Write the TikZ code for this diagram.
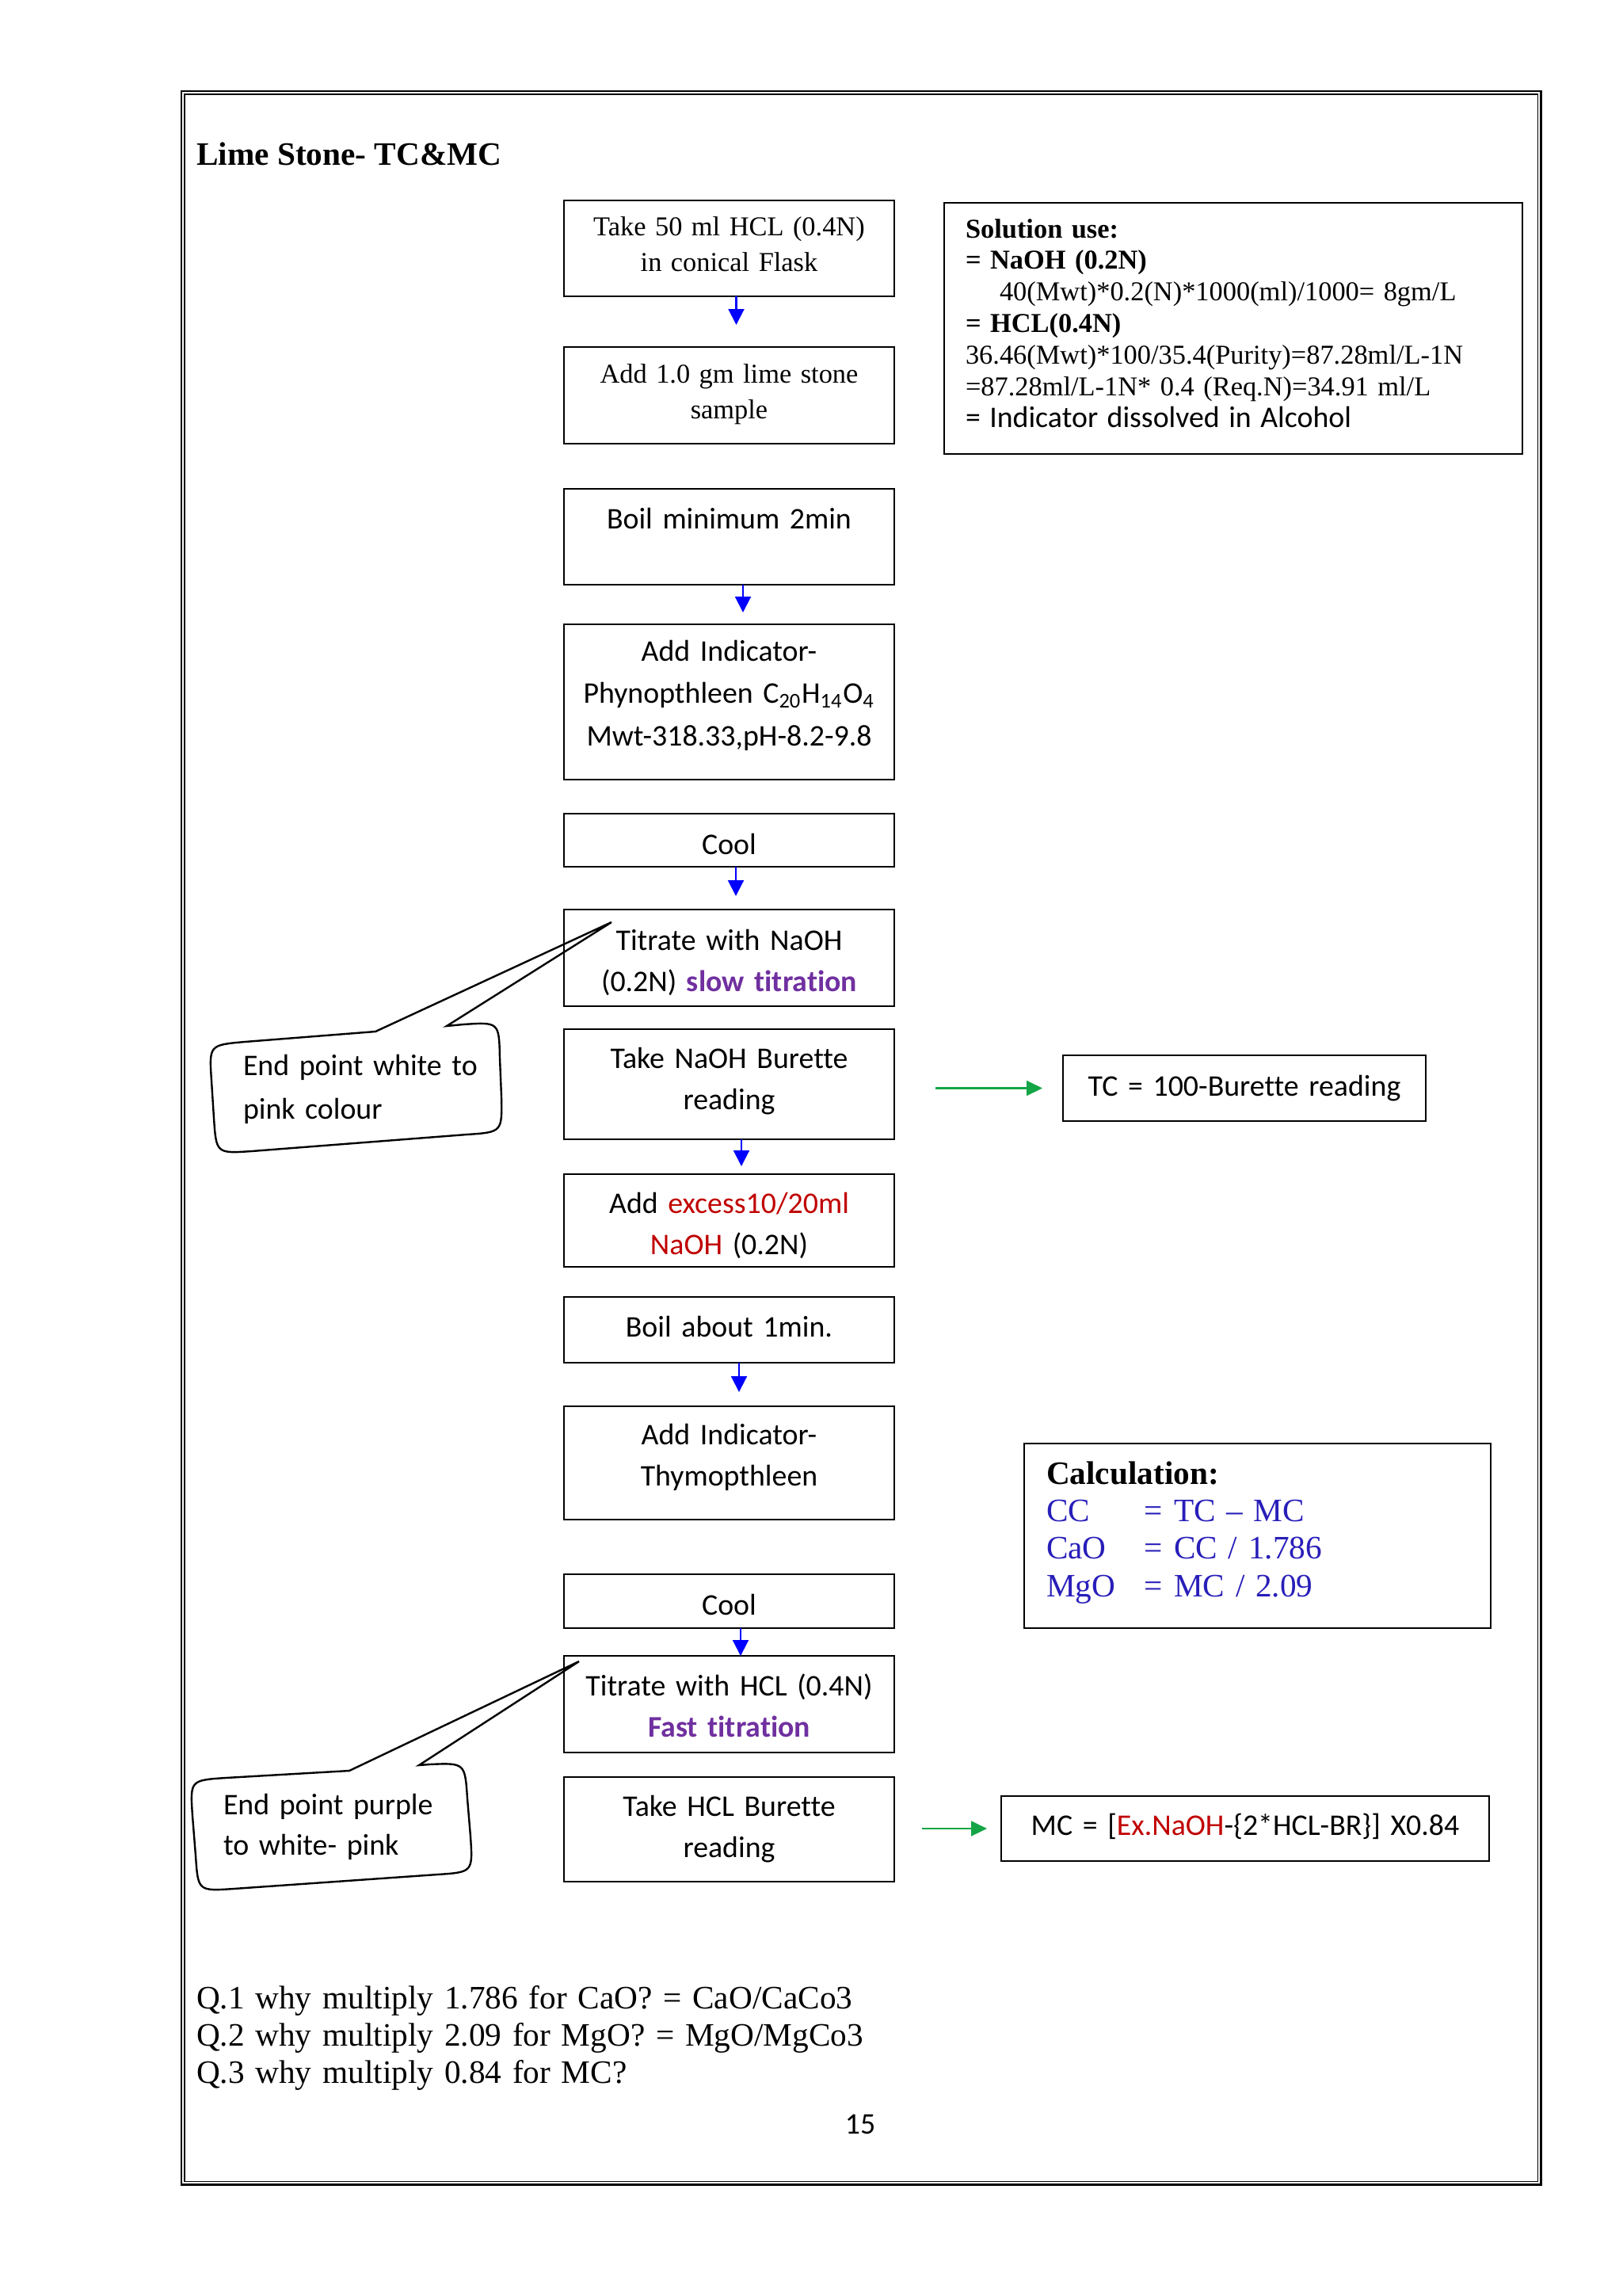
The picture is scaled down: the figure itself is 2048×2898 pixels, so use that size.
\documentclass[tikz,border=0pt]{standalone}
\usepackage{fontspec}
\setmainfont[Ligatures={TeX,NoCommon}]{Liberation Serif}
\newfontfamily\calibri[Ligatures={TeX,NoCommon}]{Carlito}
\usetikzlibrary{positioning,calc,arrows.meta}
\newlength{\pixel}
\setlength{\pixel}{0.29066pt}
\definecolor{flowblue}{RGB}{0,0,255}
\definecolor{resgreen}{RGB}{20,165,70}
\definecolor{notepurple}{RGB}{112,48,160}
\definecolor{notered}{RGB}{192,0,0}
\definecolor{calcblue}{RGB}{40,30,185}

\begin{document}
\begin{tikzpicture}[x=0.29066pt,y=-0.29066pt]
                        \tikzstyle{every node}=[inner sep=0,outer sep=0]
                        \tikzstyle{stepbox}=[draw,line width=0.7pt,rectangle,anchor=north west,minimum width=417\pixel]
                        \tikzstyle{sidebox}=[draw,line width=0.7pt,rectangle,anchor=north west]
                        \tikzstyle{calibtext}=[font=\calibri\fontsize{11}{15.3}\selectfont,text width=417\pixel,align=center,anchor=base]
                        \tikzstyle{timestext}=[font=\fontsize{10}{13.1}\selectfont,text width=417\pixel,align=center,anchor=base]
                        \tikzstyle{note}=[font=\calibri\fontsize{11}{16}\selectfont,text width=330\pixel,align=left,anchor=base west]
                        \tikzstyle{flow}=[draw,color=flowblue,line width=0.6pt,-{Triangle[length=5.8pt,width=5.8pt]}]
                        \tikzstyle{result}=[draw,color=resgreen,line width=0.6pt,-{Triangle[length=5.8pt,width=5.5pt]}]
                        \tikzstyle{bubble}=[draw,line width=0.7pt]
                        {
                            \useasboundingbox (0,0) rectangle (2048,2898);
                            \draw[line width=0.8pt] (229,115) rectangle (1945.5,2757.5);
                            \draw[line width=0.4pt] (233,119) rectangle (1941.5,2753.5);

                            \node[anchor=base west,font=\bfseries\fontsize{12}{14}\selectfont] (title) at (248,208) {Lime Stone- TC\&MC};

                            \node[stepbox,minimum height=121\pixel] (take) at (712,253) {};
                            \node[stepbox,minimum height=122\pixel] (addsample) at (712,438) {};
                            \node[stepbox,minimum height=121\pixel] (boilfirst) at (712,617) {};
                            \node[stepbox,minimum height=196\pixel] (phenol) at (712,788) {};
                            \node[stepbox,minimum height=67\pixel] (coolfirst) at (712,1027) {};
                            \node[stepbox,minimum height=122\pixel] (titratenaoh) at (712,1148) {};
                            \node[stepbox,minimum height=139\pixel] (naohread) at (712,1299) {};
                            \node[stepbox,minimum height=117\pixel] (excess) at (712,1482) {};
                            \node[stepbox,minimum height=83\pixel] (boilsecond) at (712,1637) {};
                            \node[stepbox,minimum height=143\pixel] (thymol) at (712,1775) {};
                            \node[stepbox,minimum height=68\pixel] (coolsecond) at (712,1987) {};
                            \node[stepbox,minimum height=122\pixel] (titratehcl) at (712,2090) {};
                            \node[stepbox,minimum height=132\pixel] (hclread) at (712,2243) {};

                            \node[timestext] (taketxt) at (920.5,297) {Take 50 ml HCL (0.4N)\\in conical Flask};
                            \node[timestext] (addsampletxt) at (920.5,483) {Add 1.0 gm lime stone\\sample};
                            \node[calibtext] (boilfirsttxt) at (920.5,667) {Boil minimum 2min};
                            \node[calibtext,font=\calibri\fontsize{11}{15.6}\selectfont] (phenoltxt) at (920.5,834) {Add Indicator-\\Phynopthleen C\textsubscript{20}H\textsubscript{14}O\textsubscript{4}\\Mwt-318.33,pH-8.2-9.8};
                            \node[calibtext] (coolfirsttxt) at (920.5,1078) {Cool};
                            \node[calibtext] (titratenaohtxt) at (920.5,1199) {Titrate with NaOH\\(0.2N) {\bfseries\color{notepurple}slow titration}};
                            \node[calibtext] (naohreadtxt) at (920.5,1348) {Take NaOH Burette\\reading};
                            \node[calibtext] (excesstxt) at (920.5,1531) {Add {\color{notered}excess10/20ml}\\{\color{notered}NaOH} (0.2N)};
                            \node[calibtext] (boilsecondtxt) at (920.5,1687) {Boil about 1min.};
                            \node[calibtext] (thymoltxt) at (920.5,1823) {Add Indicator-\\Thymopthleen};
                            \node[calibtext] (coolsecondtxt) at (920.5,2038) {Cool};
                            \node[calibtext] (titratehcltxt) at (920.5,2140) {Titrate with HCL (0.4N)\\{\bfseries\color{notepurple}Fast titration}};
                            \node[calibtext] (hclreadtxt) at (920.5,2292) {Take HCL Burette\\reading};

                            \path
                                ([xshift=9\pixel]take.south) edge[flow,shorten >=28\pixel] ([xshift=9\pixel]addsample.north)
                                ([xshift=17.5\pixel]boilfirst.south) edge[flow,shorten >=15\pixel] ([xshift=17.5\pixel]phenol.north)
                                ([xshift=8.5\pixel]coolfirst.south) edge[flow,shorten >=17\pixel] ([xshift=8.5\pixel]titratenaoh.north)
                                ([xshift=15.5\pixel]naohread.south) edge[flow,shorten >=10\pixel] ([xshift=15.5\pixel]excess.north)
                                ([xshift=12.5\pixel]boilsecond.south) edge[flow,shorten >=18\pixel] ([xshift=12.5\pixel]thymol.north)
                                ([xshift=14.5\pixel]coolsecond.south) edge[flow] ([xshift=14.5\pixel]titratehcl.north);

                            \node[sidebox,minimum width=730\pixel,minimum height=317\pixel] (solution) at (1192,256) {};
                            \node[font=\fontsize{10}{11.6}\selectfont,text width=690\pixel,align=left,anchor=base west] (solutiontxt) at (1219,300)
                                {\textbf{Solution use:}\\
                                 \textbf{= NaOH (0.2N)}\\
                                 \hspace*{12.5pt}40(Mwt)*0.2(N)*1000(ml)/1000= 8gm/L\\
                                 \textbf{= HCL(0.4N)}\\
                                 36.46(Mwt)*100/35.4(Purity)=87.28ml/L-1N\\
                                 =87.28ml/L-1N* 0.4 (Req.N)=34.91 ml/L\\
                                 {\calibri\fontsize{11}{12.4}\selectfont = Indicator dissolved in Alcohol}};

                            \node[sidebox,minimum width=458\pixel,minimum height=83\pixel] (tcbox) at (1342,1332) {};
                            \node[calibtext,text width=458\pixel] (tctxt) at (1571,1383) {TC = 100-Burette reading};

                            \node[sidebox,minimum width=589\pixel,minimum height=233\pixel] (calc) at (1293,1822) {};
                            \node[font=\fontsize{12}{13.8}\selectfont,text width=540\pixel,align=left,anchor=base west] (calctxt) at (1321,1873)
                                {\textbf{Calculation:}\\
                                 \color{calcblue}\makebox[124\pixel][l]{CC}= TC \textendash{} MC\\
                                 \makebox[124\pixel][l]{CaO}= CC / 1.786\\
                                 \makebox[124\pixel][l]{MgO}= MC / 2.09};

                            \node[sidebox,minimum width=616\pixel,minimum height=82\pixel] (mcbox) at (1264,2267) {};
                            \node[calibtext,text width=616\pixel] (mctxt) at (1572,2316) {MC = [{\color{notered}Ex.NaOH}-\{2*HCL-BR\}] X0.84};

                            \path
                                (naohread.east |- tcbox.west) edge[result,shorten <=52\pixel,shorten >=26\pixel] (tcbox.west)
                                (hclread.east |- mcbox.west) edge[result,shorten <=35\pixel,shorten >=18\pixel] (mcbox.west);

                            \coordinate (pinktip) at ([shift={(60,16)}]titratenaoh.north west);
                            \coordinate (purpletip) at ([shift={(19,7)}]titratehcl.north west);

                            \draw[bubble] (474,1302) -- (pinktip) -- (564,1295) -- (585,1293)
                                .. controls (630,1290) .. (631,1335) -- (633,1384)
                                .. controls (634,1429) .. (589,1432) -- (318,1453)
                                .. controls (273,1456) .. (270,1411) -- (267,1364)
                                .. controls (264,1319) .. (309,1315) -- cycle;
                            \node[note] (endpink) at (307,1357) {End point white to\\pink colour};

                            \draw[bubble] (441,2235) -- (purpletip) -- (529,2228) -- (542,2227)
                                .. controls (587,2225) .. (590,2270) -- (594,2318)
                                .. controls (597,2363) .. (552,2366) -- (295,2384)
                                .. controls (250,2387) .. (247,2342) -- (243,2292)
                                .. controls (240,2247) .. (285,2244) -- cycle;
                            \node[note,font=\calibri\fontsize{11}{15.1}\selectfont] (endpurple) at (282,2290) {End point purple\\to white- pink};

                            \node[font=\fontsize{12}{13.7}\selectfont,text width=1000\pixel,align=left,anchor=base west] (questions) at (248,2535)
                                {Q.1 why multiply 1.786 for CaO? = CaO/CaCo3\\
                                 Q.2 why multiply 2.09 for MgO? = MgO/MgCo3\\
                                 Q.3 why multiply 0.84 for MC?};
                            \node[anchor=base,font=\calibri\fontsize{11}{13}\selectfont] (pagenum) at (1086,2693) {15};
                        }
\end{tikzpicture}
\end{document}
